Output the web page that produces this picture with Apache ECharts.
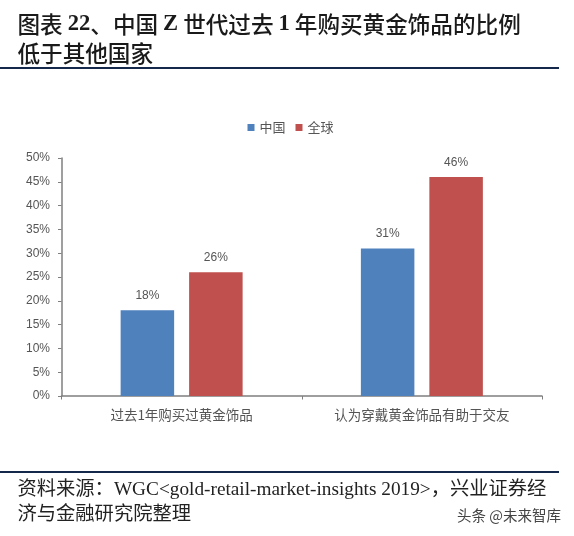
<!DOCTYPE html>
<html>
<head>
<meta charset="utf-8">
<style>html,body{margin:0;padding:0;background:#fff}#chart{width:574px;height:536px}</style>
<script src="https://cdn.jsdelivr.net/npm/echarts@6/dist/echarts.min.js"></script>
</head>
<body>
<div id="chart"></div>
<script>
const categories = ['过去1年购买过黄金饰品', '认为穿戴黄金饰品有助于交友'];
const china = [18, 31];
const world = [26, 46];
const yTicks = [0, 50, 5];

const serif = '"Liberation Serif","Noto Sans CJK SC",serif';
const cjk = '"Noto Sans CJK SC",sans-serif';
const sans = '"Liberation Sans",sans-serif';
const axisColor = '#7f7f7f';

const chart = echarts.init(document.getElementById('chart'));

const labelStyle = {
  show: true,
  position: 'top',
  distance: 8.5,
  formatter: '{c}%',
  color: '#555',
  fontSize: 12,
  fontFamily: sans
};

chart.setOption({
  animation: false,
  backgroundColor: '#fff',
  title: [
    {
      text: '{c|图表} {l|22}{c|、中国} {l|Z} {c|世代过去} {l|1} {c|年购买黄金饰品的比例}\n{c|低于其他国家}',
      left: 12.5, top: 4.5,
      textStyle: {
        lineHeight: 29,
        rich: {
          c: { fontFamily: cjk, fontWeight: 500, fontSize: 22.6, lineHeight: 29, color: '#1a1a1a' },
          l: { fontFamily: serif, fontWeight: 'bold', fontSize: 22.6, lineHeight: 29, color: '#1a1a1a' }
        }
      }
    },
    {
      text: '资料来源：WGC<gold-retail-market-insights 2019>，兴业证券经\n济与金融研究院整理',
      left: 12.5, top: 472.5,
      textStyle: { fontFamily: serif, fontWeight: 'normal', fontSize: 19.3, lineHeight: 25, color: '#222' }
    },
    {
      text: '头条 @未来智库',
      left: 452, top: 503,
      textStyle: { fontFamily: cjk, fontWeight: 'normal', fontSize: 14.5, color: '#444' }
    }
  ],
  legend: {
    top: 121, left: 247.5,
    padding: 0,
    itemWidth: 7, itemHeight: 7, itemGap: 10,
    icon: 'rect',
    textStyle: { fontFamily: cjk, fontSize: 13, color: '#555' },
    data: ['中国', '全球']
  },
  grid: { left: 61.5, right: 32, top: 158, bottom: 140 },
  xAxis: {
    type: 'category',
    data: categories,
    axisLine: { lineStyle: { color: axisColor, width: 1.5 } },
    axisTick: { show: true, length: 3.5, lineStyle: { color: axisColor } },
    axisLabel: { fontFamily: cjk, fontSize: 13.5, color: '#555', margin: 12 }
  },
  yAxis: {
    type: 'value',
    min: yTicks[0], max: yTicks[1], interval: yTicks[2],
    axisLine: { show: true, lineStyle: { color: axisColor, width: 1.5 } },
    axisTick: { show: true, length: 3.5, lineStyle: { color: axisColor } },
    splitLine: { show: false },
    axisLabel: { formatter: '{value}%', fontFamily: sans, fontSize: 12, color: '#555', margin: 11.5 }
  },
  series: [
    { name: '中国', type: 'bar', data: china, barWidth: 53.5, barGap: '28%', itemStyle: { color: '#4f81bd' }, label: labelStyle },
    { name: '全球', type: 'bar', data: world, barWidth: 53.5, itemStyle: { color: '#c0504d' }, label: labelStyle }
  ],
  graphic: [
    { type: 'line', shape: { x1: 0, y1: 68, x2: 559, y2: 68 }, style: { stroke: '#14284b', lineWidth: 2 } },
    { type: 'line', shape: { x1: 0, y1: 472, x2: 559, y2: 472 }, style: { stroke: '#14284b', lineWidth: 2 } }
  ]
});
</script>
</body>
</html>
